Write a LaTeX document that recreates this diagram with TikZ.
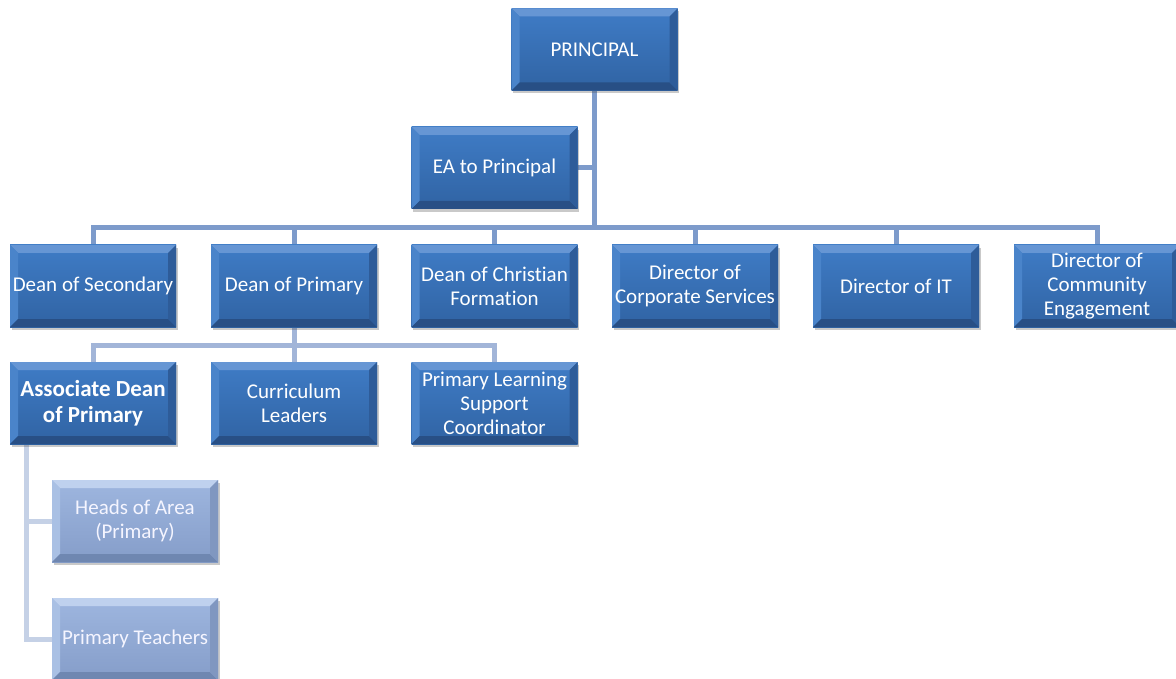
\documentclass[tikz,border=0pt]{standalone}
\usepackage{fontspec}
\setmainfont{Carlito}[Ligatures=NoCommon]
\usetikzlibrary{shadows}
\pgfdeclarelayer{background}
\pgfsetlayers{background,main}
\definecolor{faceA}{HTML}{3F7CC6}
\definecolor{faceB}{HTML}{3063A3}
\definecolor{bvT}{HTML}{6696D4}
\definecolor{bvL}{HTML}{4A84CA}
\definecolor{bvB}{HTML}{284F85}
\definecolor{bvR}{HTML}{2E5C99}
\definecolor{lfaceA}{HTML}{9EB6DF}
\definecolor{lfaceB}{HTML}{859DC9}
\definecolor{lbvT}{HTML}{BFD1EE}
\definecolor{lbvL}{HTML}{A9C0E4}
\definecolor{lbvB}{HTML}{6F87B1}
\definecolor{lbvR}{HTML}{8097C0}
\definecolor{connA}{HTML}{7D9BCB}
\definecolor{connB}{HTML}{A2B5D8}
\definecolor{connC}{HTML}{C5D1E6}
\newcommand\bevelpic[4]{%
 \fill[#1] (path picture bounding box.north west) -- (path picture bounding box.north east) -- ([xshift=-8pt,yshift=-8pt]path picture bounding box.north east) -- ([xshift=8pt,yshift=-8pt]path picture bounding box.north west) -- cycle;
 \fill[#2] (path picture bounding box.north west) -- ([xshift=8pt,yshift=-8pt]path picture bounding box.north west) -- ([xshift=8pt,yshift=8pt]path picture bounding box.south west) -- (path picture bounding box.south west) -- cycle;
 \fill[#3] (path picture bounding box.south west) -- ([xshift=8pt,yshift=8pt]path picture bounding box.south west) -- ([xshift=-8pt,yshift=8pt]path picture bounding box.south east) -- (path picture bounding box.south east) -- cycle;
 \fill[#4] (path picture bounding box.north east) -- ([xshift=-8pt,yshift=-8pt]path picture bounding box.north east) -- ([xshift=-8pt,yshift=8pt]path picture bounding box.south east) -- (path picture bounding box.south east) -- cycle;
}
\tikzset{
 x=1pt, y=-1pt,
 orgbox/.style={minimum width=166pt, minimum height=82pt, inner sep=0pt, align=center,
   text=white, font=\fontsize{21}{24}\selectfont,
   top color=faceA, bottom color=faceB,
   drop shadow={shadow xshift=1.5pt, shadow yshift=-3pt, opacity=0.3, fill=black!70},
   path picture={\bevelpic{bvT}{bvL}{bvB}{bvR}}},
 lightbox/.style={orgbox, text=white!96!blue, top color=lfaceA, bottom color=lfaceB,
   path picture={\bevelpic{lbvT}{lbvL}{lbvB}{lbvR}}},
 boldbox/.style={orgbox, font=\fontsize{23}{25.5}\selectfont\bfseries},
 conn/.style={line width=5pt, draw=#1},
}
\begin{document}
\begin{tikzpicture}
\useasboundingbox (0,0) rectangle (1176,679);
\node[orgbox] (princ) at (594.5,49.5) {PRINCIPAL};
\node[orgbox] (ea) at (494.5,168) {EA to Principal};
\node[orgbox] (ds) at (93,286) {Dean of Secondary};
\node[orgbox] (dp) at (294,286) {Dean of Primary};
\node[orgbox] (dcf) at (494.5,286) {Dean of Christian\\Formation};
\node[orgbox] (dcs) at (695,286) {Director of\\Corporate Services};
\node[orgbox] (dit) at (896,286) {Director of IT};
\node[orgbox] (dce) at (1097,286) {Director of\\Community\\Engagement};
\node[boldbox] (ad) at (93,403) {Associate Dean\\of Primary};
\node[orgbox] (cl) at (294,403) {Curriculum\\Leaders};
\node[orgbox] (pls) at (494.5,403) {Primary Learning\\Support\\Coordinator};
\node[lightbox] (ha) at (135,521) {Heads of Area\\(Primary)};
\node[lightbox] (pt) at (135,639) {Primary Teachers};
\begin{pgfonlayer}{background}
\coordinate (bar) at (594.5,228);
\draw[conn=connA] (princ.south) -- (bar);
\draw[conn=connA] (ea.east) -- (ea.east -| princ.south);
\foreach \n in {ds,dp,dcf,dcs,dit,dce}{\draw[conn=connA] (\n.north) |- (bar);}
\coordinate (bar2) at (294,345);
\draw[conn=connB] (dp.south) -- (bar2);
\foreach \n in {ad,cl,pls}{\draw[conn=connB] (\n.north) |- (bar2);}
\coordinate (adl) at ([xshift=17pt]ad.south west);
\draw[conn=connC] (adl) |- (ha.west);
\draw[conn=connC] (adl) |- (pt.west);
\end{pgfonlayer}
\end{tikzpicture}
\end{document}
